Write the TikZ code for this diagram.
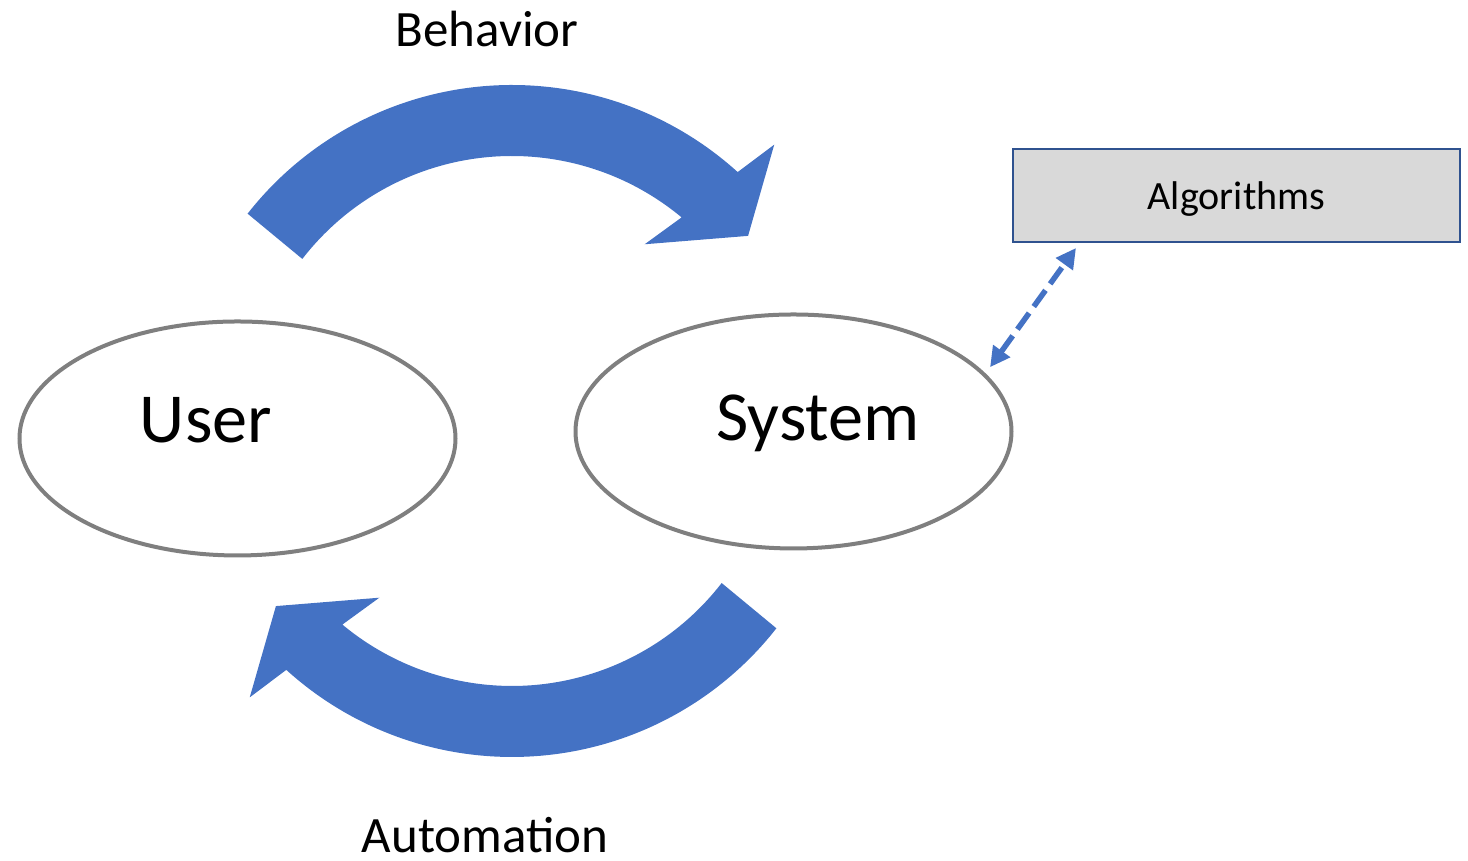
\documentclass[tikz,border=0pt]{standalone}
\usepackage{fontspec}
\setmainfont{Carlito}
\usepackage{tikz}
\usetikzlibrary{arrows.meta}
\usetikzlibrary{shapes.geometric}
\definecolor{loopblue}{HTML}{4472C4}
\definecolor{rimgray}{HTML}{7F7F7F}
\definecolor{boxblue}{HTML}{2F528F}
\definecolor{boxfill}{HTML}{D9D9D9}
\tikzset{
bubble/.style={shape=ellipse, draw=rimgray, line width=0.04cm, minimum width=4.36cm, minimum height=2.34cm, inner sep=0pt},
algbox/.style={shape=rectangle, draw=boxblue, fill=boxfill, line width=0.02cm, minimum width=4.47cm, minimum height=0.93cm, text depth=0pt, font=\fontsize{11.4}{13}\selectfont},
bigword/.style={anchor=base, font=\fontsize{20}{24}\selectfont},
midword/.style={anchor=base, font=\fontsize{14.5}{17}\selectfont},
bigarrow/.style={fill=loopblue},
dlink/.style={draw=loopblue, line width=0.055cm, dash pattern=on 0.2cm off 0.08cm,
    {Triangle[length=0.2cm,width=0.2cm]}-{Triangle[length=0.2cm,width=0.2cm]}}}

\begin{document}
\begin{tikzpicture}
    \useasboundingbox (0,0) rectangle (14.68,8.61);

    \node[bubble] (user) at (2.375,4.225) {};
    \node[bubble] (system) at (7.935,4.295) {};
    \node[algbox] (algo) at (12.365,6.655) {Algorithms};
    \coordinate (hub) at (5.12,4.40);

    \node[bigword] (userlabel) at (2.06,4.18) {User};
    \node[bigword] (systemlabel) at (8.18,4.20) {System};
    \node[midword] (behavior) at (4.87,8.14) {Behavior};
    \node[midword] (automation) at (4.85,0.08) {Automation};

    % the two bent arrows round the hub
    \foreach \turn in {0,180}
        \fill[bigarrow, shift={(hub)}, rotate=\turn] (141.9:3.36) arc[start angle=141.9, end angle=47.8, radius=3.36]
            -- (46.5:3.81) -- (38.1:3.00) -- (53.1:2.21) -- (50.2:2.65)
            arc[start angle=50.2, end angle=142.3, radius=2.65] -- cycle;

    \draw[dlink] ([shift={(0.08,0.03)}]system.18.6) -- ([shift={(0.64,-0.05)}]algo.south west);

\end{tikzpicture}
\end{document}
